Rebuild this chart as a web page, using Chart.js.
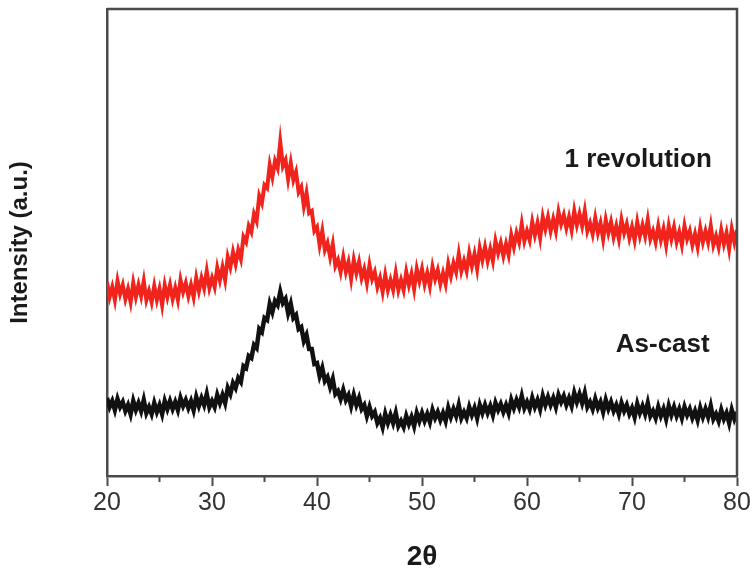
<!DOCTYPE html>
<html>
<head>
<meta charset="utf-8">
<script src="https://cdn.jsdelivr.net/npm/chart.js@4"></script>
<style>
html,body{margin:0;padding:0;background:#fff;}
#wrap{width:756px;height:574px;position:relative;}
</style>
</head>
<body>
<div id="wrap"><canvas id="c"></canvas></div>
<script>
// 2θ sampling grid (degrees), 0.25° step
const twoTheta = [
20,20.25,20.5,20.75,21,21.25,21.5,21.75,22,22.25,22.5,22.75,23,23.25,23.5,23.75,24,24.25,24.5,24.75,
25,25.25,25.5,25.75,26,26.25,26.5,26.75,27,27.25,27.5,27.75,28,28.25,28.5,28.75,29,29.25,29.5,29.75,
30,30.25,30.5,30.75,31,31.25,31.5,31.75,32,32.25,32.5,32.75,33,33.25,33.5,33.75,34,34.25,34.5,34.75,
35,35.25,35.5,35.75,36,36.25,36.5,36.75,37,37.25,37.5,37.75,38,38.25,38.5,38.75,39,39.25,39.5,39.75,
40,40.25,40.5,40.75,41,41.25,41.5,41.75,42,42.25,42.5,42.75,43,43.25,43.5,43.75,44,44.25,44.5,44.75,
45,45.25,45.5,45.75,46,46.25,46.5,46.75,47,47.25,47.5,47.75,48,48.25,48.5,48.75,49,49.25,49.5,49.75,
50,50.25,50.5,50.75,51,51.25,51.5,51.75,52,52.25,52.5,52.75,53,53.25,53.5,53.75,54,54.25,54.5,54.75,
55,55.25,55.5,55.75,56,56.25,56.5,56.75,57,57.25,57.5,57.75,58,58.25,58.5,58.75,59,59.25,59.5,59.75,
60,60.25,60.5,60.75,61,61.25,61.5,61.75,62,62.25,62.5,62.75,63,63.25,63.5,63.75,64,64.25,64.5,64.75,
65,65.25,65.5,65.75,66,66.25,66.5,66.75,67,67.25,67.5,67.75,68,68.25,68.5,68.75,69,69.25,69.5,69.75,
70,70.25,70.5,70.75,71,71.25,71.5,71.75,72,72.25,72.5,72.75,73,73.25,73.5,73.75,74,74.25,74.5,74.75,
75,75.25,75.5,75.75,76,76.25,76.5,76.75,77,77.25,77.5,77.75,78,78.25,78.5,78.75,79,79.25,79.5,79.75,
80];

// "1 revolution" intensity (a.u., vertically offset)
const oneRevolution = [
194,179,189,176,195,182,191,177,187,174,193,179,191,180,195,176,185,174,190,176,
187,171,191,179,191,177,188,176,196,184,193,180,191,179,198,185,198,188,205,188,
198,189,208,196,209,196,219,209,224,212,226,217,239,234,250,244,262,255,280,273,
291,288,311,299,315,308,334,310,316,297,313,296,304,284,289,270,283,263,265,245,
249,231,245,226,233,219,232,210,216,204,219,204,214,197,216,203,214,198,207,193,
211,197,204,189,198,184,201,186,196,186,203,186,196,186,204,191,202,187,207,195,
207,192,203,190,209,197,206,192,203,192,212,200,213,204,222,205,215,205,223,210,
222,207,228,216,229,215,227,215,235,223,233,220,232,221,241,229,243,234,252,235,
245,236,254,241,253,238,259,247,259,245,257,245,264,252,261,248,259,246,265,251,
262,250,265,245,253,242,258,243,253,237,256,243,254,239,250,237,256,243,252,238,
249,236,254,240,251,240,256,237,245,234,250,236,247,231,250,237,249,234,244,231,
250,237,245,231,242,229,248,234,245,234,250,231,240,229,246,232,243,227,247,234,
246];

// "As-cast" intensity (a.u.)
const asCast = [
78,69,75,66,77,69,74,65,71,62,75,66,73,65,76,63,69,62,73,64,
71,62,75,67,75,67,74,66,78,70,76,68,75,66,79,70,78,71,82,69,
75,69,81,73,81,73,88,82,93,88,98,94,110,108,120,118,131,128,147,144,
158,156,172,164,175,171,184,173,177,163,172,158,161,147,149,135,141,127,127,112,
113,100,108,95,99,89,97,82,85,77,86,76,81,70,81,71,78,67,71,60,
69,60,64,53,58,49,62,53,61,53,63,50,55,49,60,52,59,50,63,55,
63,55,62,54,66,58,64,56,63,55,68,59,67,60,71,58,64,58,69,61,
68,58,71,63,71,63,70,61,73,66,72,64,71,63,76,68,76,69,80,68,
74,67,78,69,76,67,80,71,79,71,78,69,81,74,80,71,78,70,83,74,
82,73,83,69,74,67,77,68,74,64,76,67,74,65,71,62,73,65,71,62,
68,59,72,63,70,62,73,60,65,58,69,60,67,57,70,61,69,60,67,58,
69,61,67,58,65,56,68,59,67,59,70,57,62,55,66,57,63,53,66,57,
64];

const xTickLabels = [20,30,40,50,60,70,80];
const seriesNames = ["1 revolution","As-cast"];

const toXY = (ys) => twoTheta.map((x,i)=>({x:x, y:ys[i]}));

const frameColor = '#4a4a4a';

const extras = {
  id:'extras',
  afterDraw(chart){
    const {ctx, chartArea:a, scales:{x,y}} = chart;
    ctx.save();
    ctx.strokeStyle = frameColor;
    ctx.lineWidth = 2;
    for (let v=25; v<80; v+=10){
      const px = x.getPixelForValue(v);
      ctx.beginPath(); ctx.moveTo(px, a.bottom); ctx.lineTo(px, a.bottom+6); ctx.stroke();
    }
    ctx.lineWidth = 2.5;
    ctx.beginPath();
    ctx.moveTo(a.left, a.top); ctx.lineTo(a.right, a.top); ctx.lineTo(a.right, a.bottom);
    ctx.stroke();
    ctx.fillStyle = '#1a1a1a';
    ctx.font = 'bold 26px "Liberation Sans", Arial, sans-serif';
    ctx.textAlign = 'right';
    ctx.textBaseline = 'middle';
    ctx.fillText(seriesNames[0], x.getPixelForValue(77.6), y.getPixelForValue(316));
    ctx.fillText(seriesNames[1], x.getPixelForValue(77.4), y.getPixelForValue(131));
    ctx.restore();
  }
};

new Chart(document.getElementById('c'), {
  type:'line',
  data:{
    datasets:[
      {label:seriesNames[1], data:toXY(asCast), borderColor:'#111111', borderWidth:4.5,
       pointRadius:0, tension:0, borderJoinStyle:'miter'},
      {label:seriesNames[0], data:toXY(oneRevolution), borderColor:'#f0241c', borderWidth:4,
       pointRadius:0, tension:0, borderJoinStyle:'miter'}
    ]
  },
  options:{
    responsive:true, maintainAspectRatio:false, animation:false,
    layout:{padding:{top:9, right:19, left:0, bottom:0}},
    plugins:{legend:{display:false}, tooltip:{enabled:false}},
    scales:{
      x:{
        type:'linear', min:20, max:80,
        afterFit(s){ s.height = 98; },
        afterBuildTicks(s){ s.ticks = xTickLabels.map(v=>({value:v})); },
        ticks:{color:'#333', font:{family:'"Liberation Sans", Arial, sans-serif', size:25}, padding:2, maxRotation:0,
               callback:(v)=>String(v)},
        grid:{display:true, drawOnChartArea:false, drawTicks:true, tickLength:10, tickWidth:2, tickColor:frameColor},
        border:{display:true, color:frameColor, width:2.5},
        title:{display:true, text:'2θ', color:'#1a1a1a',
               font:{family:'"Liberation Sans", Arial, sans-serif', size:28, weight:'bold'}, padding:{top:0,bottom:0}}
      },
      y:{
        min:0, max:467,
        afterFit(s){ s.width = 107; },
        ticks:{display:false},
        grid:{display:false, drawTicks:false},
        border:{display:true, color:frameColor, width:2.5},
        title:{display:true, text:'Intensity (a.u.)', color:'#1a1a1a',
               font:{family:'"Liberation Sans", Arial, sans-serif', size:24, weight:'bold'}, padding:{top:6,bottom:0}}
      }
    }
  },
  plugins:[extras]
});
</script>
</body>
</html>
